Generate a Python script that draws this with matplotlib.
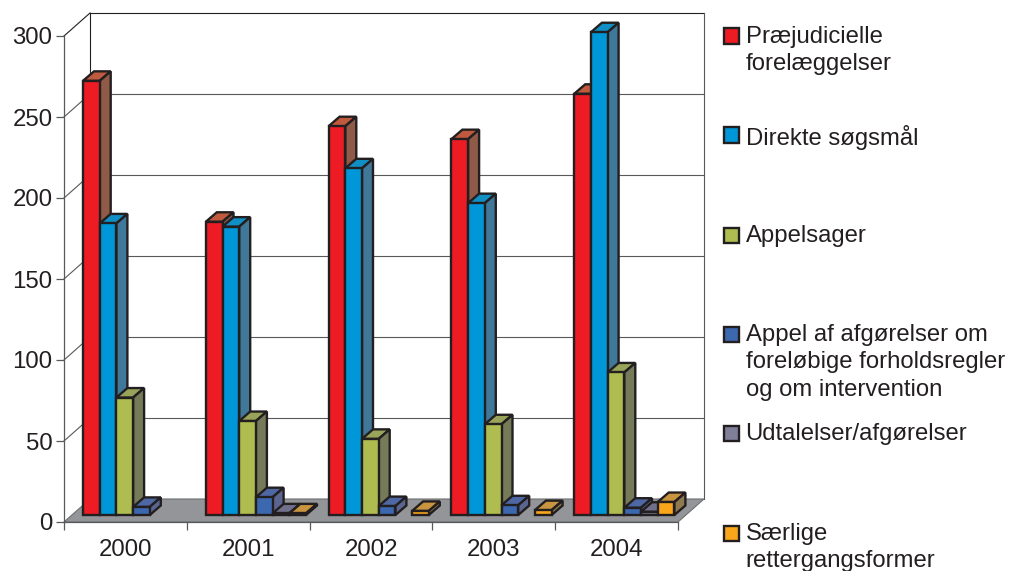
import matplotlib
matplotlib.use("Agg")
import matplotlib.pyplot as plt
from matplotlib.patches import Polygon, Rectangle

plt.rcParams['font.family'] = ['Liberation Sans', 'DejaVu Sans']

years = ['2000', '2001', '2002', '2003', '2004']
praejudicielle = [268, 181, 240, 232, 260]
direkte = [180, 178, 214, 192.5, 298]
appelsager = [72.5, 58, 47, 56, 88]
appel_afg = [5, 11, 5.5, 6, 4.5]
udtalelser = [0, 1, 0, 0, 2]
saerlige = [0, 1, 2.5, 3, 8]
series = [praejudicielle, direkte, appelsager, appel_afg, udtalelser, saerlige]
legend_labels = ['Præjudicielle\nforelæggelser', 'Direkte søgsmål', 'Appelsager',
                 'Appel af afgørelser om\nforeløbige forholdsregler\nog om intervention',
                 'Udtalelser/afgørelser', 'Særlige\nrettergangsformer']
front_cols = ['#ed1c24', '#0097d9', '#afbc4f', '#3c68b0', '#7f7f9a', '#faa61a']
top_cols = ['#c05a3e', '#0f8fc4', '#98a45a', '#4e68a5', '#70708a', '#c8943f']
side_cols = ['#8f5a48', '#3f7898', '#757b59', '#5b6690', '#66667a', '#8f7a50']
dark = '#231f20'

W, H = 1009, 571
fig = plt.figure(figsize=(W / 100, H / 100), dpi=100)
L, R, B, T = 64, 678, 522, 36
ax = fig.add_axes([L / W, 1 - B / H, (R - L) / W, (B - T) / H])
ax.set_xlim(0, 5)
ax.set_ylim(0, 300)
px = 5 / (R - L)
py = 300 / (B - T)

wall_dx, wall_dy = 26 * px, 23 * py


def poly(xy, **kw):
    kw.setdefault('clip_on', False)
    ax.add_patch(Polygon(xy, closed=True, **kw))


# walls, floor, grid
poly([(0, 0), (wall_dx, wall_dy), (5 + wall_dx, wall_dy), (5, 0)],
     facecolor='#939598', edgecolor='#6d6e71', linewidth=0.8, zorder=1)
grid_vals = [50, 100, 150, 200, 250, 300]
for v in grid_vals:
    ax.plot([wall_dx, 5 + wall_dx], [v + wall_dy] * 2, color='#58595b' if v < 300 else dark,
            lw=0.8, clip_on=False, zorder=1)
    ax.plot([0, wall_dx], [v, v + wall_dy], color='#58595b' if v < 300 else dark,
            lw=0.8, clip_on=False, zorder=1)
ax.plot([wall_dx, wall_dx], [wall_dy, 300 + wall_dy], color=dark, lw=0.8, clip_on=False, zorder=1)
ax.plot([5 + wall_dx, 5 + wall_dx], [wall_dy, 300 + wall_dy], color='#58595b', lw=0.8,
        clip_on=False, zorder=1)

# bars
bw = 16.7 * px
start = 19 * px
base = 7 * py
ddx, ddy = 11 * px, 9.5 * py
z = 3
edge = dict(edgecolor=dark, linewidth=1.7, joinstyle='miter')
for i in range(len(years)):
    for j, s in enumerate(series):
        v = s[i]
        if v <= 0:
            continue
        x0 = i + start + j * bw
        x1 = x0 + bw
        y0, y1 = base, base + v
        poly([(x0, y1), (x0 + ddx, y1 + ddy), (x1 + ddx, y1 + ddy), (x1, y1)],
             facecolor=top_cols[j], zorder=z, **edge)
        poly([(x1, y0), (x1 + ddx, y0 + ddy), (x1 + ddx, y1 + ddy), (x1, y1)],
             facecolor=side_cols[j], zorder=z, **edge)
        poly([(x0, y0), (x1, y0), (x1, y1), (x0, y1)],
             facecolor=front_cols[j], zorder=z + 1, **edge)
        z += 2

# axes
for k in ('top', 'right'):
    ax.spines[k].set_visible(False)
for k in ('left', 'bottom'):
    ax.spines[k].set_color('#58595b')
    ax.spines[k].set_linewidth(0.9)
ax.set_yticks([0, 50, 100, 150, 200, 250, 300])
ax.set_xticks(range(6))
ax.set_xticklabels([])
ax.set_xticks([i + 0.5 for i in range(5)], minor=True)
ax.set_xticklabels(years, minor=True)
ax.tick_params(axis='both', which='major', length=5.5, width=0.9, color='#58595b',
               labelsize=17.3, labelcolor=dark, pad=4)
ax.tick_params(axis='y', which='major', pad=2.8)
ax.tick_params(axis='x', which='minor', length=0, labelsize=17.3, labelcolor=dark, pad=12.5)
ax.patch.set_alpha(0)

# legend
swatch_y = [36, 135, 235, 334, 433, 533]
for lab, col, y in zip(legend_labels, front_cols, swatch_y):
    fig.add_artist(Rectangle((723.5 / W, 1 - (y + 7.5) / H), 15 / W, 15 / H,
                             transform=fig.transFigure, facecolor=col,
                             edgecolor=dark, linewidth=1.7))
    fig.text(745.5 / W, 1 - (y - 10) / H, lab, fontsize=17.2, color=dark, ha='left', va='top',
             linespacing=1.32)

fig.savefig('out.png', dpi=100)
